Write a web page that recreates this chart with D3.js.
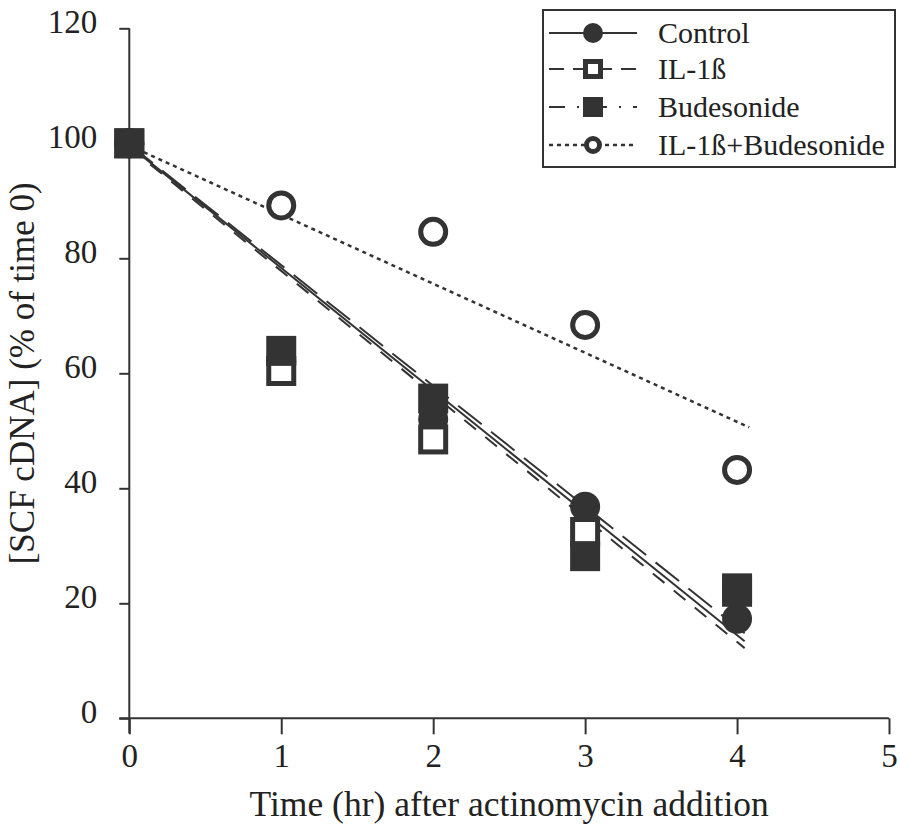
<!DOCTYPE html>
<html>
<head>
<meta charset="utf-8">
<script src="https://cdn.jsdelivr.net/npm/d3@7"></script>
<style>
  html, body { margin: 0; padding: 0; background: #fff; }
  svg { display: block; }
  text { font-family: "Liberation Serif", "Times New Roman", serif; fill: #222; }
</style>
</head>
<body>
<svg id="chart" width="900" height="830"></svg>
<script>
// ---- data ----
const times = [0, 1, 2, 3, 4];
const control = [100, 62, 52, 36.8, 17.3];
const il1b = [100, 60.4, 48.5, 32.4, 22];
const budesonide = [100, 63.9, 55.6, 28.2, 22.6];
const il1bBud = [100, 89.2, 84.6, 68.4, 43.2];

// fitted regression lines (endpoints)
const fitControlX = [0, 4.05], fitControlY = [99.6, 13.4];
const fitIl1bX = [0, 4.05], fitIl1bY = [99.3, 12.2];
const fitBudX = [0, 4.05], fitBudY = [99.8, 14.8];
const fitIl1bBudX = [0, 4.08], fitIl1bBudY = [99.6, 50.6];

const xTicks = [0, 1, 2, 3, 4, 5];
const yTicks = [0, 20, 40, 60, 80, 100, 120];
const legendLabels = ["Control", "IL-1ß", "Budesonide", "IL-1ß+Budesonide"];
const xTitle = "Time (hr) after actinomycin addition";
const yTitle = "[SCF cDNA] (% of time 0)";

// ---- layout ----
const ink = "#333";
const svg = d3.select("#chart");
const x = d3.scaleLinear().domain([0, 5]).range([129.3, 889]);
const y = d3.scaleLinear().domain([0, 120]).range([718.3, 28.3]);

// axes
const xAxis = svg.append("g").attr("transform", `translate(0,${y(0)})`)
  .call(d3.axisBottom(x).tickValues(xTicks).tickSize(16).tickPadding(10).tickFormat(d3.format("d")));
const yAxis = svg.append("g").attr("transform", `translate(${x(0)},0)`)
  .call(d3.axisLeft(y).tickValues(yTicks).tickSize(10).tickPadding(22).tickFormat(d3.format("d")));
[xAxis, yAxis].forEach(g => {
  g.select(".domain").attr("stroke", ink).attr("stroke-width", 2);
  g.selectAll(".tick line").attr("stroke", ink).attr("stroke-width", 2);
  g.selectAll("text").attr("font-size", 33).attr("fill", "#222")
    .style("font-family", '"Liberation Serif", "Times New Roman", serif');
});
xAxis.select(".domain").attr("d", `M${x(0) - 10},0H${x(5)}`);
yAxis.select(".domain").attr("d", `M0,${y(0) + 15}V${y(120)}`);
yAxis.selectAll(".tick text").attr("dy", "0.12em");
xAxis.selectAll(".tick text").attr("dy", "0.7em");

// axis titles
svg.append("text").attr("x", (x(0) + x(5)) / 2).attr("y", 816)
  .attr("text-anchor", "middle").attr("font-size", 35.5).text(xTitle);
svg.append("text").attr("transform", `translate(34,${(y(0) + y(120)) / 2}) rotate(-90)`)
  .attr("text-anchor", "middle").attr("font-size", 35).text(yTitle);

// fit lines
const fits = [
  { xs: fitControlX, ys: fitControlY, dash: null, w: 2 },
  { xs: fitIl1bX, ys: fitIl1bY, dash: "15,12", w: 2 },
  { xs: fitBudX, ys: fitBudY, dash: "30,12", w: 2 },
  { xs: fitIl1bBudX, ys: fitIl1bBudY, dash: "4,4", w: 2.5 }
];
const line = d3.line().x(d => x(d[0])).y(d => y(d[1]));
fits.forEach(f => {
  svg.append("path").datum(d3.zip(f.xs, f.ys)).attr("d", line)
    .attr("fill", "none").attr("stroke", ink).attr("stroke-width", f.w)
    .attr("stroke-dasharray", f.dash);
});

// markers
function drawMarker(g, kind, cx, cy, s) {
  if (kind === "fcircle") {
    g.append("circle").attr("cx", cx).attr("cy", cy).attr("r", s / 2).attr("fill", ink);
  } else if (kind === "fsquare") {
    g.append("rect").attr("x", cx - s / 2).attr("y", cy - s / 2).attr("width", s).attr("height", s).attr("fill", ink);
  } else if (kind === "osquare") {
    const sw = s / 6;
    g.append("rect").attr("x", cx - s / 2 + sw / 2).attr("y", cy - s / 2 + sw / 2)
      .attr("width", s - sw).attr("height", s - sw).attr("fill", "#fff").attr("stroke", ink).attr("stroke-width", sw);
  } else if (kind === "ocircle") {
    const sw = s / 6;
    g.append("circle").attr("cx", cx).attr("cy", cy).attr("r", s / 2 - sw / 2)
      .attr("fill", "#fff").attr("stroke", ink).attr("stroke-width", sw);
  }
}
const series = [
  { vals: il1bBud, kind: "ocircle" },
  { vals: control, kind: "fcircle" },
  { vals: il1b, kind: "osquare" },
  { vals: budesonide, kind: "fsquare" }
];
const mg = svg.append("g");
series.forEach(s => {
  times.forEach((t, i) => drawMarker(mg, s.kind, x(t), y(s.vals[i]), 30));
});

// legend
const lg = svg.append("g");
lg.append("rect").attr("x", 543).attr("y", 10).attr("width", 352).attr("height", 157)
  .attr("fill", "#fff").attr("stroke", ink).attr("stroke-width", 2);
const legRows = [
  { kind: "fcircle", dash: null, w: 2, size: 20 },
  { kind: "osquare", dash: "15,9", w: 2, size: 20 },
  { kind: "fsquare", dash: "16,12,2,12", w: 2, size: 20 },
  { kind: "ocircle", dash: "4,4", w: 2.5, size: 18 }
];
const legY = [33, 69, 107, 145];
legRows.forEach((r, i) => {
  const yy = legY[i];
  lg.append("line").attr("x1", 549).attr("x2", 637).attr("y1", yy).attr("y2", yy)
    .attr("stroke", ink).attr("stroke-width", r.w).attr("stroke-dasharray", r.dash);
  if (r.kind === "ocircle") {
    lg.append("circle").attr("cx", 593).attr("cy", yy).attr("r", 6.5)
      .attr("fill", "#fff").attr("stroke", ink).attr("stroke-width", 5);
  } else if (r.kind === "osquare") {
    lg.append("rect").attr("x", 583 + 2.5).attr("y", yy - 10 + 2.5).attr("width", 15).attr("height", 15)
      .attr("fill", "#fff").attr("stroke", ink).attr("stroke-width", 5);
  } else {
    drawMarker(lg, r.kind, 593, yy, r.size);
  }
  lg.append("text").attr("x", 658).attr("y", yy).attr("dy", "0.33em")
    .attr("font-size", 30).text(legendLabels[i]);
});
</script>
</body>
</html>
